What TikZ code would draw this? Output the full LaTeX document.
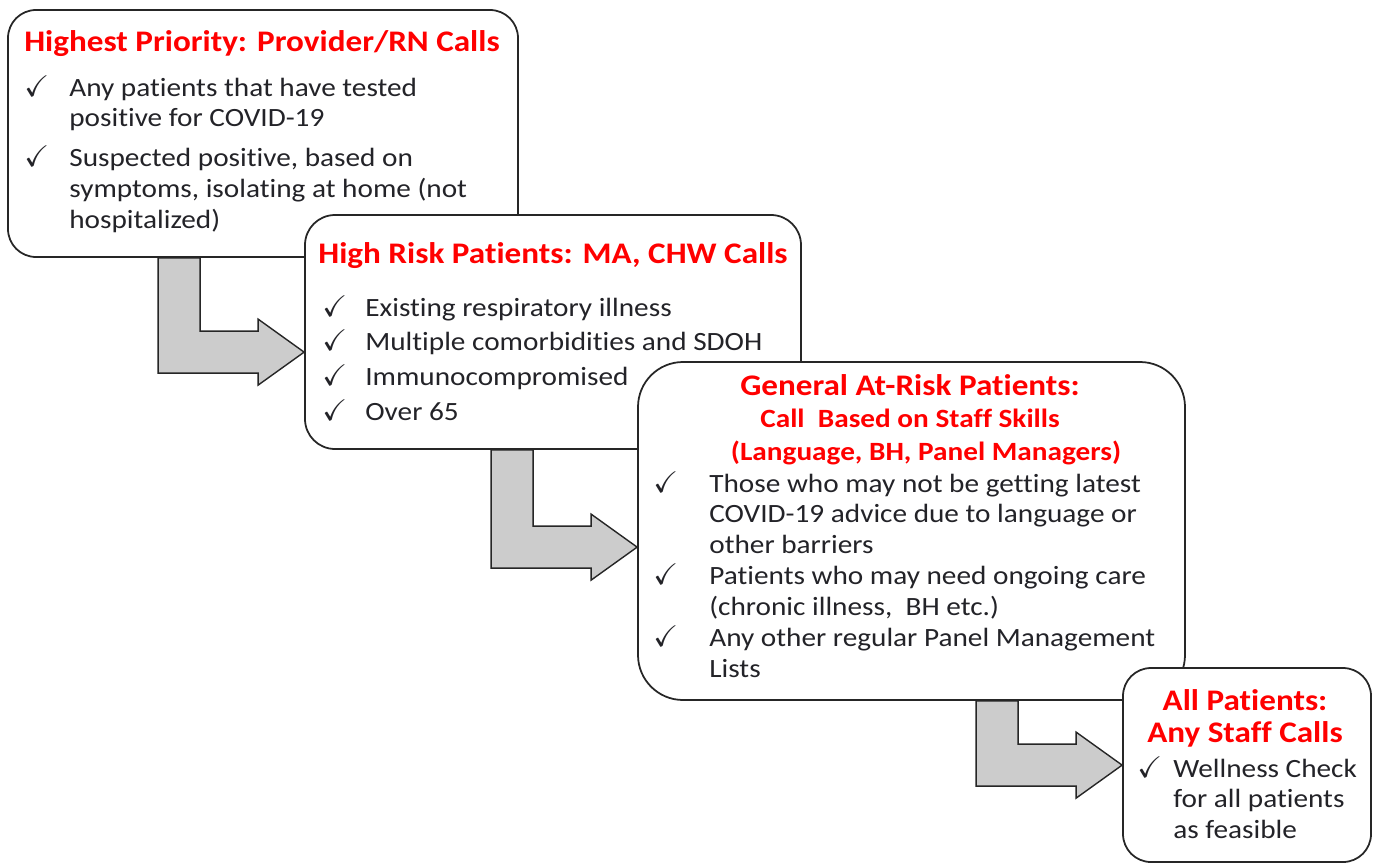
\documentclass[tikz,border=0pt]{standalone}
\usepackage{amssymb}
\usepackage{fontspec}
\setmainfont{Carlito}[Ligatures=NoCommon, FakeStretch=1.11]
\usepackage{tikz}
\usetikzlibrary{calc}

\definecolor{headred}{RGB}{255,0,0}
\definecolor{bodytext}{RGB}{35,35,40}
\definecolor{arrowgray}{RGB}{204,204,204}

\tikzset{
  box/.style={draw=black!85, line width=1pt, fill=white, inner sep=0pt},
  heading/.style={text=headred, font=\fontsize{17}{18.5}\selectfont\bfseries, inner sep=0pt, anchor=base},
  list/.style={text=bodytext, font=\fontsize{15}{17.6}\selectfont, inner sep=0pt, anchor=base west},
  blockarrow/.style={draw=black!85, line width=0.8pt, fill=arrowgray, line join=miter}
}

\newcommand{\tick}{{\fontsize{17}{17}\selectfont$\checkmark$}}
\newcommand{\subhead}{\fontsize{15}{18.5}\selectfont}
% bent block arrow from the bottom of box #1 to the tip coordinate #2
\newcommand{\bentarrow}[2]{%
  \draw[blockarrow] ($(#2 |- #1.south)+(-2.92,0)$) -- ++(0.84,0)
    |- ($(#2)+(-0.92,0.42)$) -- ++(0,0.24) -- (#2) -- ++(-0.92,-0.66)
    -- ++(0,0.24) -- ($(#2)+(-2.92,-0.42)$) -- cycle;}

\begin{document}
\begin{tikzpicture}
    \useasboundingbox (0,0) rectangle (27.5,-17.26);
    % boxes
    \node[box, minimum width=10.2cm, minimum height=4.94cm, rounded corners=0.56cm] (b1) at (5.26,-2.67) {};
    \node[box, minimum width=9.92cm, minimum height=4.68cm, rounded corners=0.6cm] (b2) at (11.06,-6.64) {};
    \node[box, minimum width=10.94cm, minimum height=6.76cm, rounded corners=0.9cm] (b3) at (18.23,-10.62) {};
    \node[box, minimum width=4.96cm, minimum height=3.88cm, rounded corners=0.56cm] (b4) at (24.94,-15.3) {};

    % headings
    \node[heading] (h1) at (5.24,-1.02) {\begin{tabular}[t]{@{}c@{}}Highest Priority: Provider/RN Calls\end{tabular}};
    \node[heading] (h2) at (11.06,-5.26) {\begin{tabular}[t]{@{}c@{}}High Risk Patients: MA, CHW Calls\end{tabular}};
    \node[heading] (h3) at (18.2,-7.9) {\begin{tabular}[t]{@{}c@{}}General At-Risk Patients:\\
      \subhead Call~ Based on Staff Skills\\
      \subhead\hspace*{0.64cm}(Language, BH, Panel Managers)\end{tabular}};
    \node[heading] (h4) at (24.9,-14.2) {\begin{tabular}[t]{@{}c@{}}All Patients:\\Any Staff Calls\end{tabular}};

    % lists
    \node[list] (l1) at (0.48,-1.92) {\begin{tabular}[t]{@{}p{0.9cm}@{}l@{}}
      \tick & Any patients that have tested\\
            & positive for COVID-19\\[0.18cm]
      \tick & Suspected positive, based on\\
            & symptoms, isolating at home (not\\
            & hospitalized)\end{tabular}};
    \node[list] (l2) at (6.44,-6.32) {\begin{tabular}[t]{@{}p{0.86cm}@{}l@{}}
      \tick & Existing respiratory illness\\[0.08cm]
      \tick & Multiple comorbidities and SDOH\\[0.08cm]
      \tick & Immunocompromised\\[0.08cm]
      \tick & Over 65\end{tabular}};
    \node[list] (l3) at (13.06,-9.84) {\begin{tabular}[t]{@{}p{1.12cm}@{}l@{}}
      \tick & Those who may not be getting latest\\
            & COVID-19 advice due to language or\\
            & other barriers\\
      \tick & Patients who may need ongoing care\\
            & (chronic illness, ~BH etc.)\\
      \tick & Any other regular Panel Management\\
            & Lists\end{tabular}};
    \node[list] (l4) at (22.74,-15.54) {\begin{tabular}[t]{@{}p{0.72cm}@{}l@{}}
      \tick & Wellness Check\\
            & for all patients\\
            & as feasible\end{tabular}};

    % arrows
    \coordinate (tip1) at ($(b2.north west)+(0,-2.76)$);
    \coordinate (tip2) at ($(b3.north west)+(0,-3.72)$);
    \coordinate (tip3) at ($(b4.north west)+(0,-1.96)$);
    \bentarrow{b1}{tip1}
    \bentarrow{b2}{tip2}
    \bentarrow{b3}{tip3}
\end{tikzpicture}
\end{document}
